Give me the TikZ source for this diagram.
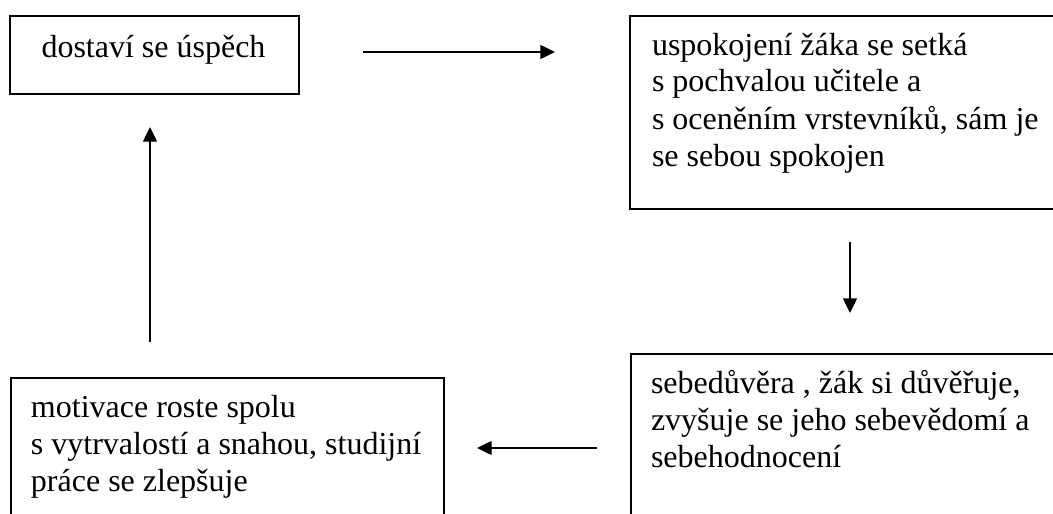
\documentclass[tikz,border=0pt]{standalone}
\usepackage{fontspec}
\setmainfont{Liberation Serif}
\usetikzlibrary{arrows.meta}
\tikzset{
  boxnode/.style={draw=black, line width=1.5pt, rectangle, inner sep=0pt, anchor=north west},
  txt/.style={inner sep=0pt, outer sep=0pt, font=\fontsize{24pt}{27.75pt}\selectfont, text=black},
  flow/.style={line width=1pt, -{Triangle[length=11pt,width=10.5pt]}}
}
\newcommand{\boxlines}[1]{\parbox[t]{360pt}{\raggedright\fontsize{24pt}{27.75pt}\selectfont #1}}
\begin{document}
\begin{tikzpicture}[x=0.75pt,y=-0.75pt]
\useasboundingbox (0,0) rectangle (1053,514);
\clip (0,0) rectangle (1053,514);
% boxes
\node[boxnode, minimum width=216.75pt, minimum height=58.5pt] (A) at (9,15) {};
\node[boxnode, minimum width=330.75pt, minimum height=144.75pt] (B) at (629,15) {};
\node[boxnode, minimum width=330pt, minimum height=132.75pt] (C) at (630,353) {};
\node[boxnode, minimum width=324.75pt, minimum height=114.75pt] (D) at (10,377) {};
% texts
\node[txt, anchor=base] (tA) at (153.5,57) {dostaví se úspěch};
\node[txt, anchor=base west] (tB) at (652,55) {\boxlines{uspokojení žáka se setká\\ s pochvalou učitele a\\ s oceněním vrstevníků, sám je\\ se sebou spokojen}};
\node[txt, anchor=base west] (tC) at (651,393) {\boxlines{sebedůvěra , žák si důvěřuje,\\ zvyšuje se jeho sebevědomí a\\ sebehodnocení}};
\node[txt, anchor=base west] (tD) at (31,417) {\boxlines{motivace roste spolu\\ s vytrvalostí a snahou, studijní\\ práce se zlepšuje}};
% arrow ends
\coordinate (r1) at (363,52);
\coordinate (r2) at (555,52);
\coordinate (d1) at (850,242);
\coordinate (d2) at (850,313);
\coordinate (l1) at (597,448);
\coordinate (l2) at (477,448);
\coordinate (u1) at (150,342);
\coordinate (u2) at (150,127);
\draw[flow] (r1) -- (r2);
\draw[flow] (d1) -- (d2);
\draw[flow] (l1) -- (l2);
\draw[flow] (u1) -- (u2);
\end{tikzpicture}
\end{document}
